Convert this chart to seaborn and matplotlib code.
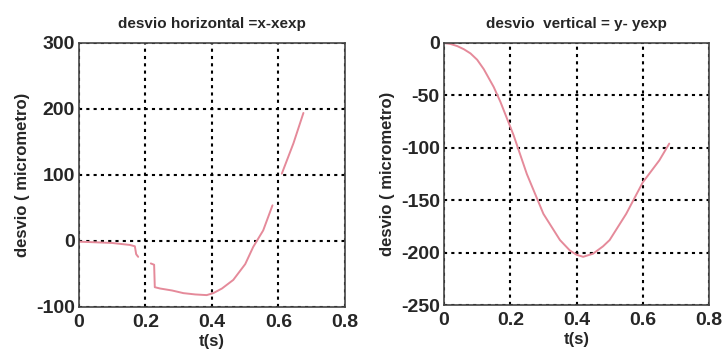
import numpy as np
import pandas as pd
import matplotlib
matplotlib.use("Agg")
import matplotlib.pyplot as plt
from matplotlib import font_manager
import seaborn as sns

# Left panel: horizontal deviation (segments separated by gaps)
h_t = [0.0, 0.05, 0.10, 0.153, 0.168, 0.172, 0.178,
       0.216, 0.226, 0.228, 0.244, 0.28, 0.314, 0.35, 0.384, 0.404, 0.43, 0.464, 0.50, 0.524, 0.554, 0.582,
       0.61, 0.645, 0.675]
h_v = [-1, -2, -3, -6, -8, -20, -24,
       -34, -36, -70, -72, -75, -79, -81, -82, -79, -72, -59, -35, -9, 16, 54,
       102, 148, 194]
h_seg = [0]*7 + [1]*15 + [2]*3

# Right panel: vertical deviation
v_t = [0.0, 0.02, 0.04, 0.06, 0.08, 0.10, 0.12, 0.15, 0.17, 0.19, 0.21,
       0.25, 0.30, 0.35, 0.38, 0.40, 0.42, 0.45, 0.48, 0.50, 0.55, 0.60, 0.65, 0.68]
v_v = [0, -1, -3, -6, -10, -16, -25, -42, -56, -72, -88,
       -125, -163, -188, -198, -202, -204, -201, -194, -188, -163, -133, -112, -96]
v_seg = [0]*len(v_t)

sns.set_theme(style="white")
names = {f.name for f in font_manager.fontManager.ttflist}
fam = ['Liberation Sans Narrow'] if 'Liberation Sans Narrow' in names else []
plt.rcParams['font.family'] = fam + ['Liberation Sans', 'DejaVu Sans']
plt.rcParams['axes.unicode_minus'] = False

fig = plt.figure(figsize=(7.22, 3.61), dpi=100)
ax1 = fig.add_axes([0.1094, 0.1496, 0.3684, 0.7313])
ax2 = fig.add_axes([0.615, 0.155, 0.367, 0.726])

line_color = "#e58a9a"

dfh = pd.DataFrame({"t": h_t, "v": h_v, "seg": h_seg})
dfv = pd.DataFrame({"t": v_t, "v": v_v, "seg": v_seg})

sns.lineplot(data=dfh, x="t", y="v", units="seg", estimator=None, sort=False,
             color=line_color, lw=1.4, ax=ax1)
sns.lineplot(data=dfv, x="t", y="v", units="seg", estimator=None, sort=False,
             color=line_color, lw=1.4, ax=ax2)

def style(ax, ylim, yticks, title):
    ax.set_xlim(0, 0.8)
    ax.set_ylim(*ylim)
    ax.set_xticks([0, 0.2, 0.4, 0.6, 0.8])
    ax.set_xticklabels(["0", "0.2", "0.4", "0.6", "0.8"])
    ax.set_yticks(yticks)
    ax.grid(True, color="black", linestyle=(0, (1.5, 2)), linewidth=1.5)
    ax.tick_params(axis="both", labelsize=14, length=0)
    ax.tick_params(axis="x", pad=5)
    ax.tick_params(axis="y", pad=3)
    for lbl in ax.get_xticklabels() + ax.get_yticklabels():
        lbl.set_fontweight("bold")
    for s in ax.spines.values():
        s.set_color("#444444")
        s.set_linewidth(1.2)
    ax.set_xlabel("t(s)", fontsize=12, fontweight="bold", labelpad=2)
    ax.set_ylabel("desvio ( micrometro)", fontsize=12, fontweight="bold", labelpad=4)
    ax.set_title(title, fontsize=11, fontweight="bold", pad=11)

style(ax1, (-100, 300), [-100, 0, 100, 200, 300], "desvio horizontal =x-xexp")
style(ax2, (-250, 0), [-250, -200, -150, -100, -50, 0], "desvio  vertical = y- yexp")

fig.savefig("out.png", dpi=100)
